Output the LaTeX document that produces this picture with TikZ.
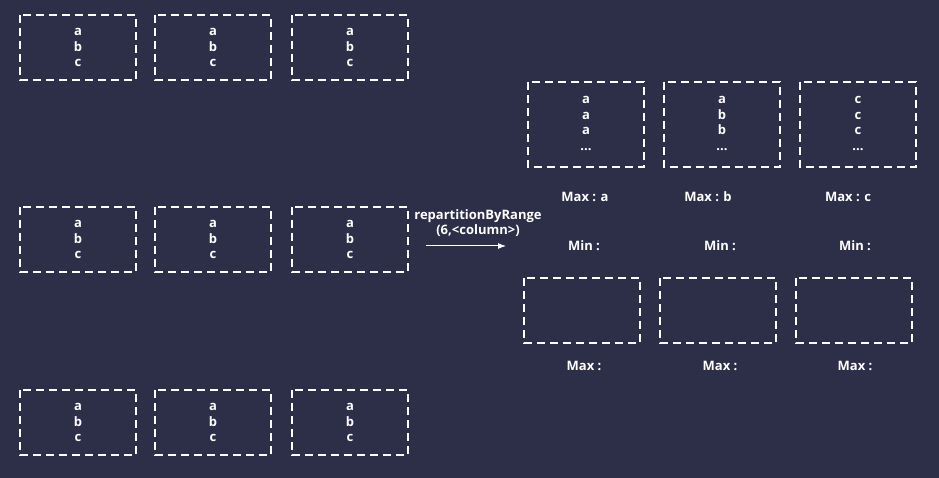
\documentclass[tikz,border=0pt]{standalone}
\usepackage{fontspec}
\usetikzlibrary{arrows.meta}
\setmainfont{Open Sans}
\definecolor{bg}{RGB}{45,46,72}
\begin{document}
\begin{tikzpicture}[x=1pt,y=-1pt,
  part/.style={draw=white,line width=1.6pt,dash pattern=on 8pt off 5pt},
  lbl/.style={text=white,font=\bfseries\fontsize{13}{15.8}\selectfont,align=center,inner sep=0pt}]
\fill[bg] (0,0) rectangle (939,478);
\useasboundingbox (0,0) rectangle (939,478);
% left grid
\foreach \r/\y in {1/15,2/207,3/390}{
  \foreach \c/\x in {1/20,2/155,3/292}{
    \draw[part] (\x,\y) rectangle ++(116,65);
    \node[lbl] (L\r\c) at (\x+58,\y+32.5) {a\\b\\c};
  }
}
% right top
\foreach \c/\x/\t/\m/\mx in {1/528/{a\\a\\a\\...}/a/585,2/664/{a\\b\\b\\...}/b/708,3/800/{c\\c\\c\\...}/c/848}{
  \draw[part] (\x,82) rectangle ++(116,85);
  \node[lbl] (T\c) at (\x+58,123.5) {\t};
  \node[lbl] (MT\c) at (\mx,197) {Max : \m};
}
\foreach \c/\x in {1/584,2/720,3/855}{
  \node[lbl] (MN\c) at (\x,246) {Min :};
  \node[lbl] (MB\c) at (\x,366) {Max :};
}
% right bottom
\foreach \c/\x in {1/524,2/660,3/796}{
  \draw[part] (\x,278) rectangle ++(116,65);
}
% arrow
\node[lbl] (op) at (478,223) {repartitionByRange\\(6,<column>)};
\coordinate (a1) at (426,246);
\coordinate (a2) at (506,246);
\draw[white,line width=1pt,-{Latex[length=8pt,width=6pt]}] (a1) -- (a2);
\end{tikzpicture}
\end{document}
